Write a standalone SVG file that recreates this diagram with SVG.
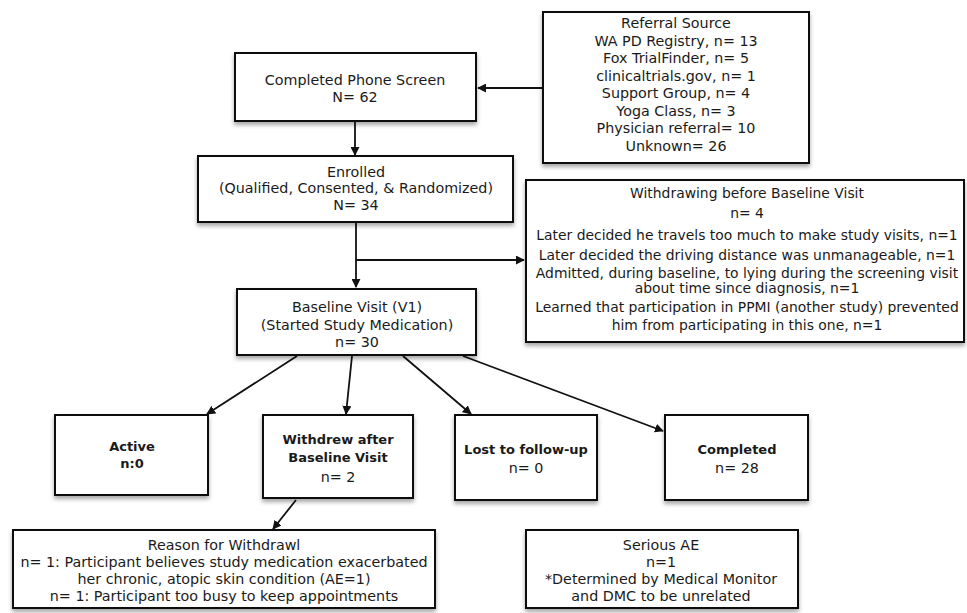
<svg xmlns="http://www.w3.org/2000/svg" width="967" height="613" viewBox="0 0 967 613">
  <style>
    .box { fill: #ffffff; stroke: #111111; stroke-width: 2; filter: url(#shadow); }
    .t { font-family: "DejaVu Sans", "Liberation Sans", sans-serif; font-size: 14.3px; fill: #1a1a1a; text-anchor: middle; }
    .s { font-size: 13.9px; }
    .b { font-weight: bold; font-size: 13px; }
    .edge { fill: none; stroke: #111111; stroke-width: 1.8; marker-end: url(#arrow); }
  </style>
  <defs>
    <filter id="shadow" x="-10%" y="-10%" width="120%" height="130%">
      <feDropShadow dx="0" dy="3" stdDeviation="2" flood-color="#000000" flood-opacity="0.35"/>
    </filter>
    <marker id="arrow" viewBox="0 0 10 10" refX="9" refY="5" markerWidth="5" markerHeight="5" orient="auto" markerUnits="strokeWidth">
      <path d="M0,0 L10,5 L0,10 z" fill="#111111"/>
    </marker>
  </defs>
  <rect width="967" height="613" fill="#ffffff"/>

  <!-- connectors -->
  <g id="connectors">
    <line class="edge" x1="543" y1="88" x2="478" y2="88"/>
    <line class="edge" x1="355" y1="121" x2="355" y2="155"/>
    <line class="edge" x1="356" y1="222" x2="356" y2="287"/>
    <line class="edge" x1="356" y1="260" x2="524" y2="260"/>
    <line class="edge" x1="297" y1="356" x2="207" y2="414"/>
    <line class="edge" x1="352" y1="356" x2="346" y2="414"/>
    <line class="edge" x1="403" y1="356" x2="471" y2="414"/>
    <line class="edge" x1="463" y1="356" x2="663" y2="431"/>
    <line class="edge" x1="296" y1="500" x2="273" y2="529"/>
  </g>

  <g id="referral">
    <rect class="box" x="543" y="12" width="266" height="151"/>
    <text class="t" x="676" y="28">Referral Source</text>
    <text class="t" x="676" y="46">WA PD Registry, n= 13</text>
    <text class="t" x="676" y="63">Fox TrialFinder, n= 5</text>
    <text class="t" x="676" y="81">clinicaltrials.gov, n= 1</text>
    <text class="t" x="676" y="98">Support Group, n= 4</text>
    <text class="t" x="676" y="116">Yoga Class, n= 3</text>
    <text class="t" x="676" y="133">Physician referral= 10</text>
    <text class="t" x="676" y="151">Unknown= 26</text>
  </g>

  <g id="phone-screen">
    <rect class="box" x="235" y="53" width="241" height="68"/>
    <text class="t" x="355" y="85">Completed Phone Screen</text>
    <text class="t" x="355" y="102">N= 62</text>
  </g>

  <g id="enrolled">
    <rect class="box" x="198" y="156" width="315" height="66"/>
    <text class="t" x="356" y="177">Enrolled</text>
    <text class="t" x="356" y="193">(Qualified, Consented, &amp; Randomized)</text>
    <text class="t" x="356" y="210">N= 34</text>
  </g>

  <g id="withdrawing-before">
    <rect class="box" x="526" y="180" width="438" height="162"/>
    <text class="t s" x="747" y="198">Withdrawing before Baseline Visit</text>
    <text class="t s" x="747" y="218">n= 4</text>
    <text class="t s" x="747" y="240">Later decided he travels too much to make study visits, n=1</text>
    <text class="t s" x="747" y="260">Later decided the driving distance was unmanageable, n=1</text>
    <text class="t s" x="747" y="278">Admitted, during baseline, to lying during the screening visit</text>
    <text class="t s" x="747" y="293">about time since diagnosis, n=1</text>
    <text class="t s" x="747" y="312">Learned that participation in PPMI (another study) prevented</text>
    <text class="t s" x="747" y="330">him from participating in this one, n=1</text>
  </g>

  <g id="baseline">
    <rect class="box" x="237" y="289" width="239" height="66"/>
    <text class="t" x="357" y="312">Baseline Visit (V1)</text>
    <text class="t" x="357" y="330">(Started Study Medication)</text>
    <text class="t" x="357" y="347">n= 30</text>
  </g>

  <g id="active">
    <rect class="box" x="55" y="415" width="153" height="80"/>
    <text class="t b" x="132" y="451">Active</text>
    <text class="t b" x="132" y="468">n:0</text>
  </g>

  <g id="withdrew-after">
    <rect class="box" x="263" y="415" width="150" height="83"/>
    <text class="t b" x="338" y="444">Withdrew after</text>
    <text class="t b" x="338" y="462">Baseline Visit</text>
    <text class="t" x="338" y="482">n= 2</text>
  </g>

  <g id="lost">
    <rect class="box" x="455" y="415" width="142" height="85"/>
    <text class="t b" x="526" y="454">Lost to follow-up</text>
    <text class="t" x="526" y="473">n= 0</text>
  </g>

  <g id="completed">
    <rect class="box" x="665" y="415" width="143" height="85"/>
    <text class="t b" x="737" y="454">Completed</text>
    <text class="t" x="737" y="473">n= 28</text>
  </g>

  <g id="reason">
    <rect class="box" x="13" y="530" width="422" height="78"/>
    <text class="t" x="224" y="550">Reason for Withdrawl</text>
    <text class="t" x="224" y="567">n= 1: Participant believes study medication exacerbated</text>
    <text class="t" x="224" y="584">her chronic, atopic skin condition (AE=1)</text>
    <text class="t" x="224" y="601">n= 1: Participant too busy to keep appointments</text>
  </g>

  <g id="serious-ae">
    <rect class="box" x="526" y="530" width="272" height="78"/>
    <text class="t" x="661" y="550">Serious AE</text>
    <text class="t" x="661" y="567">n=1</text>
    <text class="t" x="661" y="584">*Determined by Medical Monitor</text>
    <text class="t" x="661" y="601">and DMC to be unrelated</text>
  </g>
</svg>
